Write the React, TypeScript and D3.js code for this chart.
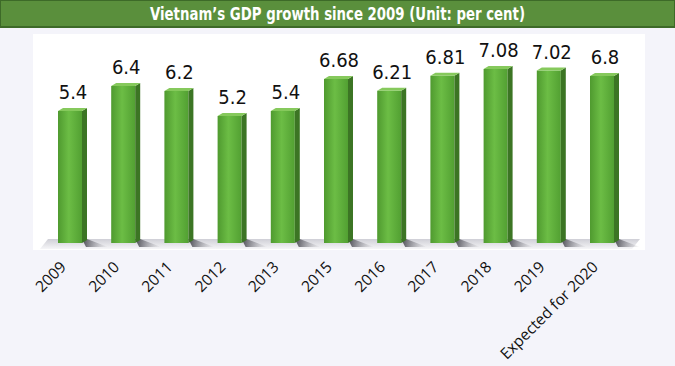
import React from 'react';
import * as d3 from 'd3';

const years = ['2009', '2010', '2011', '2012', '2013', '2015', '2016', '2017', '2018', '2019', 'Expected for 2020'];
const growth = [5.4, 6.4, 6.2, 5.2, 5.4, 6.68, 6.21, 6.81, 7.08, 7.02, 6.8];
const valueLabels = ['5.4', '6.4', '6.2', '5.2', '5.4', '6.68', '6.21', '6.81', '7.08', '7.02', '6.8'];

const W = 675;
const H = 366;
const barW = 24;
const depth = 5;
const narrow = "'DejaVu Sans Condensed', 'Liberation Sans', sans-serif";

export default function App() {
  const x = d3.scalePoint<string>().domain(years).range([70, 602]);
  const y = d3.scaleLinear().domain([0, 8]).range([246, 46]);
  const floorY = 243;

  return (
    <div style={{ position: 'fixed', left: 0, top: 0 }}>
      <svg width={W} height={H} style={{ display: 'block' }}>
        <defs>
          <linearGradient id="front" x1="0" x2="1" y1="0" y2="0">
            <stop offset="0" stopColor="#4f9a2f" />
            <stop offset="0.45" stopColor="#6cbd45" />
            <stop offset="1" stopColor="#52a032" />
          </linearGradient>
          <linearGradient id="floor" x1="0" x2="0" y1="0" y2="1">
            <stop offset="0" stopColor="#cfcfd6" />
            <stop offset="1" stopColor="#f6f6f8" />
          </linearGradient>
          <linearGradient id="shadow" x1="0" x2="1" y1="0" y2="0">
            <stop offset="0" stopColor="#3a3a42" stopOpacity="0.9" />
            <stop offset="1" stopColor="#9a9aa2" stopOpacity="0" />
          </linearGradient>
        </defs>
        <rect width={W} height={H} fill="#f4f4fa" />
        {/* title bar */}
        <rect x={0} y={0} width={W} height={27} fill="#5a8f3c" stroke="#3d6a28" strokeWidth={2} />
        <text x={W / 2} y={20} textAnchor="middle" fill="#fff" fontFamily={narrow} fontWeight="bold" fontSize={18} textLength={375} lengthAdjust="spacingAndGlyphs">
          Vietnam’s GDP growth since 2009 (Unit: per cent)
        </text>
        {/* plot panel */}
        <rect x={33} y={34} width={612} height={216} fill="#ffffff" />
        <path d={`M40,${floorY + 6} L48,${floorY - 4} L640,${floorY - 4} L632,${floorY + 6} Z`} fill="url(#floor)" />
        {years.map((yr, i) => {
          const cx = x(yr) as number;
          const left = cx - barW / 2;
          const top = y(growth[i]);
          return (
            <g key={yr}>
              <path d={`M${left + barW},${floorY - 4} L${left + barW + depth},${floorY - 4} L${left + barW + 26},${floorY + 4} L${left + barW + 4},${floorY + 4} Z`} fill="url(#shadow)" />
              <rect x={left} y={top} width={barW} height={floorY - top} fill="url(#front)" />
              <path d={`M${left + barW},${top} L${left + barW + depth},${top - 3} L${left + barW + depth},${floorY - 3} L${left + barW},${floorY} Z`} fill="#3c7524" />
              <path d={`M${left},${top} L${left + depth},${top - 3} L${left + barW + depth},${top - 3} L${left + barW},${top} Z`} fill="#86c95c" />
              <text x={cx + 3} y={top - 12} textAnchor="middle" fontFamily={narrow} fontSize={20} fill="#111">
                {valueLabels[i]}
              </text>
              <text transform={`translate(${cx - 3},${floorY + 25}) rotate(-45)`} textAnchor="end" fontFamily="'Open Sans', sans-serif" fontSize={15.5} fill="#111">
                {yr}
              </text>
            </g>
          );
        })}
      </svg>
    </div>
  );
}
